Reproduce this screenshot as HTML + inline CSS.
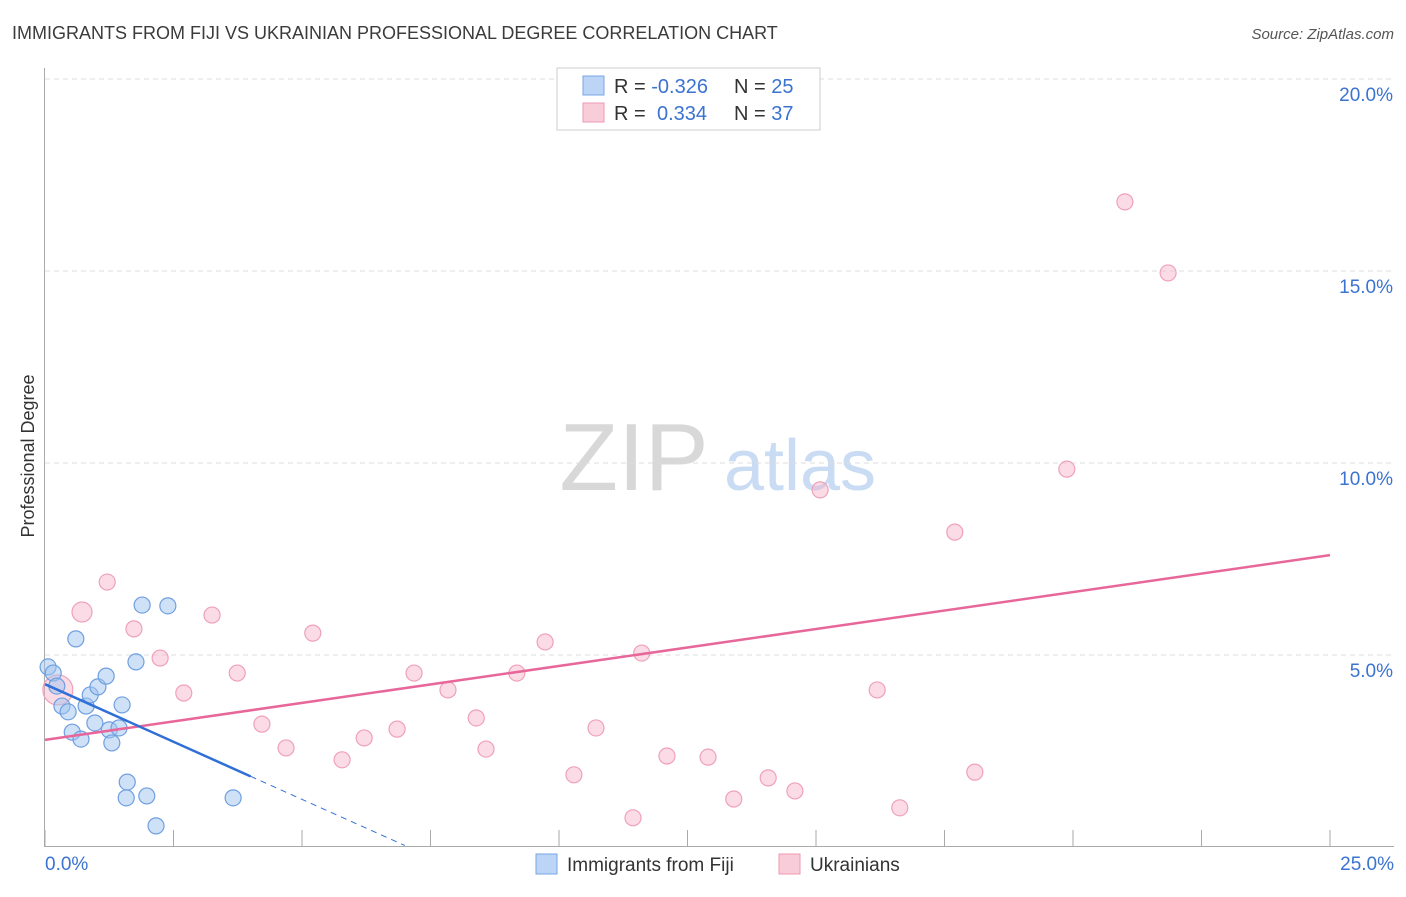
<!DOCTYPE html>
<html><head><meta charset="utf-8"><style>
body{margin:0;background:#fff;font-family:"Liberation Sans",sans-serif;}
svg text{font-family:"Liberation Sans",sans-serif;}
</style></head><body>
<svg id="chart" width="1406" height="892" viewBox="0 0 1406 892" xmlns="http://www.w3.org/2000/svg">
<text x="12" y="39" font-size="18" fill="#3b3b3b">IMMIGRANTS FROM FIJI VS UKRAINIAN PROFESSIONAL DEGREE CORRELATION CHART</text>
<text x="1394" y="39" font-size="15" fill="#555" text-anchor="end" font-style="italic">Source: ZipAtlas.com</text>
<g>
<text x="634" y="490" font-size="96" fill="#d8d8d8" text-anchor="middle" font-family="Liberation Serif, serif">ZIP</text>
<text x="800" y="490" font-size="72" fill="#c9dcf3" text-anchor="middle">atlas</text>
</g>
<g id="grid"></g>
<g id="axes"></g>
<g id="marks"></g>
<text transform="translate(34,456) rotate(-90)" font-size="18" fill="#333" text-anchor="middle">Professional Degree</text>
<g>
<rect x="557" y="68" width="263" height="62" fill="#fff" stroke="#ccc"/>
<rect x="583" y="76" width="21" height="19" fill="#bcd4f5" stroke="#7aa6e6"/>
<rect x="583" y="103" width="21" height="19" fill="#f9ccd9" stroke="#ee9ab3"/>
<text x="614" y="93" font-size="20" fill="#333">R = <tspan fill="#3b73d1">-0.326</tspan></text>
<text x="734" y="93" font-size="20" fill="#333">N = <tspan fill="#3b73d1">25</tspan></text>
<text x="614" y="120" font-size="20" fill="#333">R = <tspan fill="#3b73d1" x="657">0.334</tspan></text>
<text x="734" y="120" font-size="20" fill="#333">N = <tspan fill="#3b73d1">37</tspan></text>
</g>
<g>
<rect x="536" y="854" width="21" height="20" fill="#bcd4f5" stroke="#7aa6e6"/>
<text x="567" y="871" font-size="19" fill="#333">Immigrants from Fiji</text>
<rect x="779" y="854" width="21" height="20" fill="#f9ccd9" stroke="#ee9ab3"/>
<text x="810" y="871" font-size="19" fill="#333">Ukrainians</text>
</g>
</svg>
<script>
const fijiX=[0.06,0.16,0.23,0.33,0.45,0.53,0.60,0.70,0.80,0.88,0.97,1.03,1.19,1.25,1.30,1.44,1.50,1.60,1.58,1.77,1.89,1.98,2.16,2.39,3.66];
const fijiY=[4.69,4.53,4.19,3.67,3.52,2.99,5.42,2.81,3.67,3.96,3.23,4.17,4.45,3.05,2.71,3.10,3.70,1.69,1.28,4.82,6.30,1.33,0.55,6.28,1.28];
const ukrX=[0.25,0.72,1.21,1.73,2.24,2.70,3.25,3.74,4.22,4.69,5.21,5.78,6.21,6.85,7.18,7.84,8.39,8.58,9.18,9.73,10.29,10.72,11.44,11.61,12.10,12.90,13.40,14.07,14.59,15.08,16.19,16.63,17.70,18.09,19.88,21.01,21.85];
const ukrY=[4.09,6.12,6.90,5.68,4.92,4.01,6.04,4.53,3.20,2.58,5.57,2.27,2.84,3.07,4.53,4.09,3.36,2.55,4.53,5.34,1.88,3.10,0.76,5.05,2.37,2.34,1.25,1.80,1.46,9.30,4.09,1.02,8.20,1.95,9.84,16.80,14.95];
const yTicks=[5,10,15,20];
const yTickLabels=["5.0%","10.0%","15.0%","20.0%"];
const xTicks=[0,2.5,5,7.5,10,12.5,15,17.5,20,22.5,25];
const xEndLabels=["0.0%","25.0%"];
const fijiTrend=[4.24,-0.6];
const ukrTrend=[2.79,0.1924];

const NS="http://www.w3.org/2000/svg";
const X=v=>45+v*51.4;
const Y=v=>847-v*38.4;
function mk(tag,attrs,parent){const e=document.createElementNS(NS,tag);for(const k in attrs)e.setAttribute(k,attrs[k]);parent.appendChild(e);return e;}
const grid=document.getElementById('grid'),axes=document.getElementById('axes'),marks=document.getElementById('marks');
yTicks.forEach((t,i)=>{
  const l=mk('line',{x1:45,x2:1394,y1:Y(t),y2:Y(t),stroke:'#ddd','stroke-dasharray':'5,4'},grid);
  
  
  const tx=mk('text',{x:1393,y:Y(t)+22,'font-size':19,fill:'#3b73d1','text-anchor':'end'},axes);
  tx.textContent=yTickLabels[i];
  
  
});
const topGrid=mk('line',{x1:45,x2:1394,y1:79,y2:79,stroke:'#ddd','stroke-dasharray':'5,4'},grid);


const ya=mk('line',{x1:44.5,x2:44.5,y1:68,y2:847,stroke:'#aaa'},axes);


const xa=mk('line',{x1:44,x2:1394,y1:846.5,y2:846.5,stroke:'#aaa'},axes);


xTicks.forEach(t=>{
  const l=mk('line',{x1:X(t),x2:X(t),y1:830,y2:847,stroke:'#aaa'},axes);
  
  
});
const xl0=mk('text',{x:45,y:870,'font-size':19,fill:'#3b73d1'},axes);
xl0.textContent=xEndLabels[0];


const xl1=mk('text',{x:1394,y:870,'font-size':19,fill:'#3b73d1','text-anchor':'end'},axes);
xl1.textContent=xEndLabels[1];



ukrX.forEach((x,i)=>{
  const c=mk('circle',{cx:X(x),cy:Y(ukrY[i]),r:i<2?(i==0?15:10):8,fill:'rgba(246,178,199,0.45)',stroke:'#efa1b9','stroke-width':1.2},marks);
  
  
});
fijiX.forEach((x,i)=>{
  const c=mk('circle',{cx:X(x),cy:Y(fijiY[i]),r:8,fill:'rgba(160,195,240,0.5)',stroke:'#6f9fe0','stroke-width':1.2},marks);
  
  
});
const ut=mk('line',{x1:X(0),y1:Y(ukrTrend[0]),x2:X(25),y2:Y(ukrTrend[0]+ukrTrend[1]*25),stroke:'#e8679a','stroke-width':2.5},marks);


const fEnd=4,fDash=7;
const ft=mk('line',{x1:X(0),y1:Y(fijiTrend[0]),x2:X(fEnd),y2:Y(fijiTrend[0]+fijiTrend[1]*fEnd),stroke:'#2f6fd6','stroke-width':2.5},marks);


const fd=mk('line',{x1:X(fEnd),y1:Y(fijiTrend[0]+fijiTrend[1]*fEnd),x2:X(fDash),y2:Y(fijiTrend[0]+fijiTrend[1]*fDash),stroke:'#2f6fd6','stroke-width':1,'stroke-dasharray':'6,5'},marks);


</script>
</body></html>
